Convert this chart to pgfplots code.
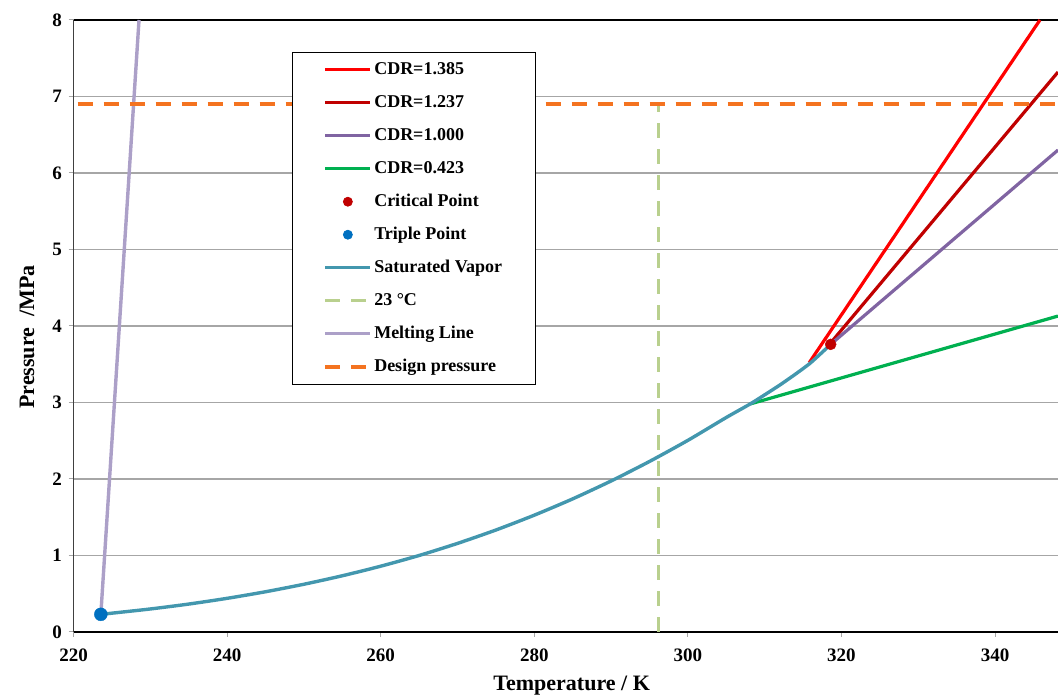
\documentclass[border=0pt]{standalone}
\usepackage{fontspec}
\setmainfont{Liberation Serif}
\usepackage{pgfplots}
\pgfplotsset{compat=1.18}
\usepackage{pgfplotstable}

\definecolor{cdrA}{HTML}{FF0000}
\definecolor{cdrB}{HTML}{C00000}
\definecolor{cdrC}{HTML}{8064A2}
\definecolor{cdrD}{HTML}{00B050}
\definecolor{critc}{HTML}{C00000}
\definecolor{tripc}{HTML}{0070C0}
\definecolor{satc}{HTML}{4397AE}
\definecolor{roomc}{HTML}{B9D08E}
\definecolor{meltc}{HTML}{ACA0C8}
\definecolor{designc}{HTML}{F47320}
\definecolor{gridc}{HTML}{A6A6A6}

% SF6 saturated vapour pressure, triple point to critical point
\pgfplotstableread{
T P
223.56 0.231
225 0.246
230 0.301
235 0.365
240 0.440
245 0.526
250 0.624
255 0.735
260 0.860
265 1.000
270 1.158
275 1.333
280 1.527
285 1.740
290 1.974
295 2.229
300 2.505
305 2.804
308.1 2.980
310 3.100
312 3.230
314 3.370
316 3.520
318.6 3.760
}\satvap

% isochoric filling lines
\pgfplotstableread{
T P
315.8 3.52
345.85 8.00
}\cdrA
\pgfplotstableread{
T P
318.1 3.72
348.2 7.32
}\cdrB
\pgfplotstableread{
T P
318.6 3.76
348.2 6.30
}\cdrC
\pgfplotstableread{
T P
308.1 2.98
348.2 4.13
}\cdrD

\pgfplotsset{
  lineleg/.style={legend image code/.code={\draw[##1] (0pt,0pt) -- (45pt,0pt);}},
  markleg/.style={legend image code/.code={\path[draw=none] (0pt,0pt) -- (45pt,0pt);
      \path[draw=none] (22.5pt,0pt) circle[radius=4.5pt];
      \fill[##1] (22.5pt,0pt) circle[radius=4.5pt];}},
}

\begin{document}
\begin{tikzpicture}
\path[use as bounding box] (0pt,0pt) rectangle (1058pt,696pt);
\begin{axis}[
  at={(73.5pt,64pt)}, anchor=south west,
  scale only axis, width=984.5pt, height=612pt,
  xmin=220, xmax=348.2, ymin=0, ymax=8,
  axis x line=box, axis y line=left,
  every outer y axis line/.append style={-},
  every inner y axis line/.append style={-},
  x axis line style={black, line width=1.6pt},
  y axis line style={black!75, line width=1.8pt},
  xtick={220,240,...,340}, ytick={0,1,...,8},
  xtick pos=bottom, ytick pos=left,
  tick align=outside, major tick length=5pt,
  tick style={gridc, line width=1pt},
  ymajorgrids, grid style={gridc, line width=1.2pt},
  /pgf/number format/assume math mode=true,
  ticklabel style={font=\fontsize{19}{19}\selectfont\bfseries},
  xticklabel style={yshift=-8pt},
  yticklabel style={xshift=-3pt},
  xlabel={Temperature / K},
  ylabel={Pressure \ /MPa},
  label style={font=\fontsize{22}{22}\selectfont\bfseries},
  xlabel style={at={(axis description cs:0.506,-0.0882)}, anchor=center},
  ylabel style={at={(axis description cs:-0.0472,0.482)}, anchor=center},
  legend style={at={(rel axis cs:0.222,0.948)}, anchor=north west,
    draw=black, line width=0.8pt, fill=white,
    inner xsep=31pt, inner ysep=7pt, row sep=12pt,
    font=\fontsize{18}{18}\selectfont\bfseries,
    nodes={inner sep=2pt, text height=13pt, text depth=4pt}},
  legend cell align=left,
]
% legend entries
\addlegendimage{lineleg, cdrA, line width=3.2pt}
\addlegendentry{CDR=1.385}
\addlegendimage{lineleg, cdrB, line width=3.2pt}
\addlegendentry{CDR=1.237}
\addlegendimage{lineleg, cdrC, line width=3.2pt}
\addlegendentry{CDR=1.000}
\addlegendimage{lineleg, cdrD, line width=3.2pt}
\addlegendentry{CDR=0.423}
\addlegendimage{markleg, critc}
\addlegendentry{Critical Point}
\addlegendimage{markleg, tripc}
\addlegendentry{Triple Point}
\addlegendimage{lineleg, satc, line width=3.4pt}
\addlegendentry{Saturated Vapor}
\addlegendimage{lineleg, roomc, line width=3.4pt, dash pattern=on 15pt off 11pt}
\addlegendentry{23 °C}
\addlegendimage{lineleg, meltc, line width=3.4pt}
\addlegendentry{Melting Line}
\addlegendimage{lineleg, designc, line width=3.8pt, dash pattern=on 15pt off 11pt}
\addlegendentry{Design pressure}

% curves
\addplot[forget plot, cdrA, line width=3.2pt] table[x=T,y=P] {\cdrA};
\addplot[forget plot, cdrB, line width=3.2pt] table[x=T,y=P] {\cdrB};
\addplot[forget plot, cdrC, line width=3.2pt] table[x=T,y=P] {\cdrC};
\addplot[forget plot, cdrD, line width=3.2pt] table[x=T,y=P] {\cdrD};
\addplot[forget plot, satc, line width=3.4pt, smooth, tension=0.4] table[x=T,y=P] {\satvap};
\addplot[forget plot, roomc, line width=3.4pt, dash pattern=on 15pt off 11pt] coordinates {(296.15,0) (296.15,6.9)};
\addplot[forget plot, meltc, line width=3.4pt] coordinates {(223.56,0.231) (228.53,8.0)};
\addplot[forget plot, designc, line width=3.8pt, dash pattern=on 15pt off 11pt, dash phase=-4pt] coordinates {(220,6.9) (348.2,6.9)};
% characteristic points
\addplot[forget plot, only marks, mark=*, mark size=5.5pt, mark options={draw=critc, fill=critc}] coordinates {(318.6,3.76)};
\addplot[forget plot, only marks, mark=*, mark size=6.5pt, mark options={draw=tripc, fill=tripc}] coordinates {(223.56,0.231)};
\end{axis}
\end{tikzpicture}
\end{document}
